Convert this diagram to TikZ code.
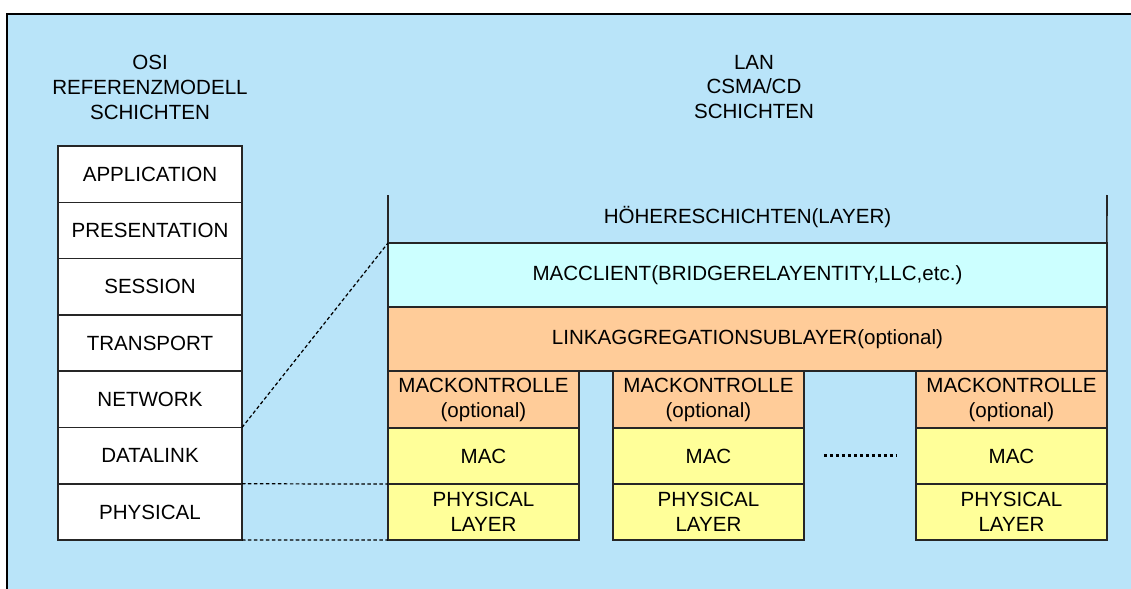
\documentclass[tikz,border=0pt]{standalone}
\usepackage{fontspec}
\setmainfont{Liberation Sans}
\usetikzlibrary{positioning}
\definecolor{bgBlue}{HTML}{B9E4F9}
\definecolor{clientC}{HTML}{CCFFFF}
\definecolor{orangeL}{HTML}{FFCC99}
\definecolor{yellowL}{HTML}{FFFF99}

\begin{document}
\begin{tikzpicture}[x=0.02cm, y=-0.02cm,
  every node/.style={font=\fontsize{11.7}{14.2}\selectfont, inner sep=0pt, outer sep=0pt},
  osi/.style={draw=black!85, line width=0.9pt, fill=white,
              minimum width=3.68cm, minimum height=1.126cm},
  band/.style={draw=black!85, line width=0.9pt,
               minimum width=14.38cm, minimum height=1.28cm},
  cell/.style={draw=black!85, line width=0.9pt, align=center,
               minimum width=3.82cm},
  link/.style={line width=0.7pt, dash pattern=on 2pt off 1.4pt},
  dotrow/.style={line width=1.7pt, dash pattern=on 1.7pt off 1.7pt,
                 shorten <=0.4cm, shorten >=0.4cm}
]
  \useasboundingbox (0,0) rectangle (1131,588);
  \draw[fill=bgBlue, line width=1.2pt] (7,14) rectangle (1145,600);

  % titles
  \node[align=center] (osiT) at (150,87) {OSI\\REFERENZMODELL\\SCHICHTEN};
  \node[align=center] (lanT) at (754,87) {LAN\\CSMA/CD\\SCHICHTEN};

  % OSI stack
  \foreach \i/\nm/\lab in {0/app/APPLICATION, 1/pres/PRESENTATION, 2/sess/SESSION,
                           3/trans/TRANSPORT, 4/net/NETWORK, 5/dl/DATALINK, 6/phy/PHYSICAL} {
    \node[osi] (\nm) at (150, 174.15+\i*56.3) {\lab};
  }

  % LAN stack
  \node[band, fill=clientC, anchor=north west] (client) at (388,243)
       {MACCLIENT(BRIDGERELAYENTITY,LLC,etc.)};
  \node[band, fill=orangeL, anchor=north west] (lag) at (client.south west)
       {LINKAGGREGATIONSUBLAYER(optional)};
  \node (hoeher) at (747.5,217) {HÖHERESCHICHTEN(LAYER)};
  \coordinate (hl) at (388,195);
  \coordinate (hr) at (1107,195);
  \draw[line width=0.9pt, black!85] (hl) -- (client.north west);
  \draw[line width=0.9pt, black!85] (hr) -- (client.north east);

  \foreach \c/\x in {1/388, 2/613, 3/916} {
    \node[cell, fill=orangeL, minimum height=1.14cm, anchor=north west] (mk\c) at (\x,371)
         {MACKONTROLLE\\(optional)};
    \node[cell, fill=yellowL, minimum height=1.12cm, anchor=north] (mac\c) at (mk\c.south) {MAC};
    \node[cell, fill=yellowL, minimum height=1.12cm, anchor=north] (pl\c) at (mac\c.south)
         {PHYSICAL\\LAYER};
  }
  \draw[dotrow] (mac2.east) -- (mac3.west);

  % mapping OSI -> LAN
  \draw[link] (dl.north east) -- (client.north west);
  \draw[link] (phy.north east) -- (pl1.north west);
  \draw[link] (phy.south east) -- (pl1.south west);
\end{tikzpicture}
\end{document}
